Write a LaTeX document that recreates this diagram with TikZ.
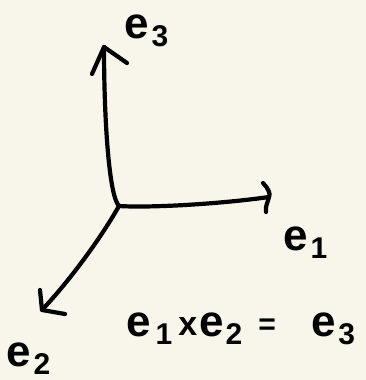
\documentclass[tikz,border=0pt]{standalone}
\usepackage{fontspec}
\setmainfont{Liberation Sans}
\definecolor{bg}{HTML}{F8F6EA}
\newcommand\subd[1]{\raisebox{-8pt}{\fontsize{30}{30}\selectfont #1}}
\newcommand\esub[1]{e\hspace{3pt}\subd{#1}}
\begin{document}
\begin{tikzpicture}[x=1pt,y=-1pt,
  pen/.style={line width=4.2pt, line cap=round, line join=round},
  lab/.style={font=\fontsize{44}{44}\bfseries\selectfont, inner sep=0pt, anchor=base west}]
\fill[bg] (0,0) rectangle (366,380);
\useasboundingbox (0,0) rectangle (366,380);
\coordinate (O) at (119,206);
\coordinate (X3) at (104,47);
\coordinate (X1) at (269,197);
\coordinate (X2) at (42,310);
\coordinate (h3a) at (92,74);
\coordinate (h3b) at (127,63);
\coordinate (h1a) at (263,183);
\coordinate (h1b) at (266,212);
\coordinate (h2a) at (40,290);
\coordinate (h2b) at (65,314);
% e3 axis
\draw[pen] (O) .. controls (109,196) and (104,120) .. (X3);
\draw[pen] (h3a) -- (X3) -- (h3b);
% e1 axis
\draw[pen] (O) .. controls (150,208) and (220,204) .. (X1);
\draw[pen] (h1a) .. controls (268,188) and (271,194) .. (X1) .. controls (268,202) and (265,206) .. (h1b);
% e2 axis
\draw[pen] (O) .. controls (102,236) and (72,278) .. (X2);
\draw[pen] (h2a) -- (X2) -- (h2b);
% labels
\node[lab] (l3) at (124,38) {\esub{3}};
\node[lab] (l1) at (283,250) {\esub{1}};
\node[lab] (l2) at (6,366) {\esub{2}};
\node[lab] (eq) at (126,336) {e\hspace{5pt}\subd{1}\hspace{6pt}\raisebox{1pt}{\fontsize{34}{34}\selectfont x}\hspace{2pt}e\hspace{2pt}\subd{2}\hspace{16pt}\raisebox{2pt}{\fontsize{30}{30}\selectfont =}\hspace{36pt}e\hspace{2pt}\subd{3}};
\end{tikzpicture}
\end{document}
